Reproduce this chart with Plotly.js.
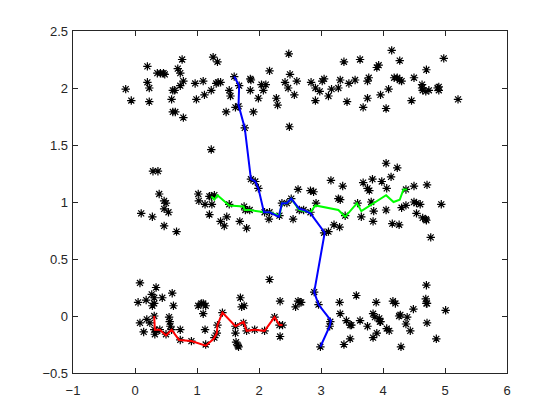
<!DOCTYPE html>
<html>
<head>
<meta charset="utf-8">
<script src="https://cdn.plot.ly/plotly-3.0.1.min.js"></script>
<style>
  body { margin: 0; background: #fff; }
  #myDiv { width: 560px; height: 420px; }
</style>
</head>
<body>
<div id="myDiv"></div>
<script>
// scattered samples, three bands
var ptsX = [
  -0.15, -0.06, 0.2, 0.2, 0.23, 0.23, 0.36, 0.41, 0.46, 0.48, 0.59, 0.61, 0.64, 0.61, 0.65,
  0.69, 0.73, 0.76, 0.78, 0.73, 0.78, 0.97, 0.99, 1.10, 1.12, 1.23, 1.26, 1.33, 1.31, 1.34,
  1.38, 1.47, 1.52, 1.54, 1.60, 1.62, 1.67, 1.68, 1.86, 1.87, 1.86, 1.91, 1.99, 2.04, 2.07,
  2.11, 2.17, 2.28, 2.30, 2.42, 2.47, 2.48, 2.50, 2.57, 2.49, 2.61, 2.84, 2.91, 2.98, 2.91,
  3.02, 3.05, 3.12, 3.17, 3.28, 3.31, 3.37, 3.42, 3.45, 3.55, 3.63, 3.68, 3.75, 3.75, 3.77,
  3.90, 3.93, 3.96, 4.05, 4.09, 4.14, 4.18, 4.23, 4.27, 4.30, 4.27, 4.46, 4.50, 4.63, 4.63,
  4.64, 4.69, 4.74, 4.70, 4.88, 4.90, 4.90, 4.98, 5.21, 1.23, 1.77,
  0.29, 0.37, 0.39, 0.47, 0.50, 0.47, 0.54, 0.47, 0.10, 0.28, 0.67, 1.02, 1.03, 1.13, 1.20,
  1.23, 1.28, 1.24, 1.20, 1.38, 1.44, 1.48, 1.52, 1.69, 1.80, 1.76, 1.78, 1.85, 1.87, 1.94,
  1.99, 2.09, 2.17, 2.16, 2.33, 2.37, 2.45, 2.52, 2.55, 2.63, 2.65, 2.72, 2.83, 2.88, 2.92,
  2.83, 3.05, 3.12, 3.16, 3.21, 3.30, 3.28, 3.31, 3.35, 3.39, 3.59, 3.65, 3.68, 3.75, 3.78,
  3.83, 3.81, 3.85, 3.84, 3.98, 4.05, 4.06, 4.05, 4.13, 4.15, 4.26, 4.23, 4.30, 4.37, 4.37,
  4.50, 4.50, 4.54, 4.60, 4.54, 4.64, 4.69, 4.70, 4.71, 4.77, 4.94,
  0.08, 0.05, 0.08, 0.14, 0.18, 0.19, 0.24, 0.27, 0.31, 0.28, 0.31, 0.34, 0.31, 0.31, 0.32,
  0.35, 0.40, 0.44, 0.50, 0.55, 0.56, 0.57, 0.60, 0.62, 0.59, 0.73, 0.73, 0.91, 1.02, 1.07,
  1.10, 1.14, 1.10, 1.13, 1.14, 1.28, 1.32, 1.33, 1.41, 1.62, 1.62, 1.63, 1.66, 1.67, 1.70,
  1.72, 1.76, 1.75, 1.80, 1.93, 2.09, 2.17, 2.25, 2.34, 2.34, 2.33, 2.38, 2.59, 2.63, 2.66,
  2.68, 2.89, 2.96, 3.15, 3.14, 2.99, 3.30, 3.31, 3.37, 3.41, 3.47, 3.49, 3.47, 3.57, 3.63,
  3.75, 3.84, 3.87, 3.84, 3.90, 3.89, 3.94, 3.95, 3.96, 4.06, 4.10, 4.16, 4.20, 4.26, 4.28,
  4.29, 4.39, 4.37, 4.44, 4.49, 4.70, 4.71, 4.69, 4.70, 4.71, 4.86, 5.01
];
var ptsY = [
  1.99, 1.89, 2.19, 2.05, 2.00, 1.88, 2.13, 2.13, 2.13, 2.12, 1.90, 1.98, 1.98, 1.79, 1.79,
  2.17, 2.13, 2.25, 2.06, 2.02, 1.74, 2.04, 1.90, 2.06, 1.94, 1.98, 2.27, 2.23, 2.04, 2.05,
  2.05, 1.79, 1.98, 1.93, 2.10, 1.83, 1.84, 2.02, 2.08, 2.07, 1.98, 1.79, 1.91, 2.03, 1.98,
  2.03, 2.15, 1.91, 1.85, 2.05, 2.00, 2.30, 2.12, 1.94, 1.66, 2.06, 2.05, 2.00, 1.97, 1.89,
  2.06, 2.08, 1.93, 1.99, 2.00, 2.07, 2.23, 1.88, 2.04, 2.07, 2.25, 1.83, 1.91, 2.06, 2.09,
  2.18, 2.20, 1.94, 1.82, 1.99, 2.33, 2.09, 2.09, 2.07, 2.06, 2.24, 1.89, 2.09, 2.03, 2.00,
  1.98, 1.97, 1.98, 2.16, 2.00, 2.01, 1.98, 2.26, 1.90, 1.46, 1.65,
  1.27, 1.27, 1.07, 1.01, 0.99, 0.94, 0.91, 0.79, 0.90, 0.87, 0.74, 1.07, 1.01, 0.98, 1.05,
  1.05, 1.06, 0.98, 0.89, 0.83, 0.79, 0.87, 0.98, 0.83, 0.77, 0.96, 0.93, 0.93, 1.20, 1.18,
  1.12, 0.91, 0.91, 0.85, 0.88, 0.99, 0.99, 1.03, 0.85, 1.11, 0.93, 0.93, 1.10, 1.09, 0.99,
  0.91, 0.73, 0.74, 1.19, 0.80, 0.78, 1.03, 1.02, 1.14, 0.88, 0.99, 0.87, 1.17, 1.12, 1.10,
  1.20, 1.00, 0.92, 0.83, 1.18, 1.34, 1.12, 0.93, 1.22, 0.81, 0.80, 1.30, 0.95, 0.97, 1.11,
  1.14, 1.00, 0.99, 0.98, 0.90, 0.86, 0.85, 0.84, 1.15, 0.69, 0.98,
  0.29, 0.12, -0.06, -0.14, 0.14, -0.03, -0.06, 0.19, 0.11, 0.09, 0.16, 0.25, 0.00, -0.12, -0.16,
  -0.13, -0.12, 0.16, -0.16, -0.01, -0.05, -0.09, 0.20, 0.09, -0.12, -0.12, -0.21, -0.22, 0.09, 0.11,
  0.11, 0.09, 0.02, -0.12, -0.25, -0.19, -0.15, -0.08, 0.03, -0.09, -0.15, -0.23, -0.26, -0.27, 0.16,
  0.08, 0.09, -0.06, -0.13, -0.12, -0.13, 0.32, -0.01, 0.13, -0.18, -0.08, -0.08, 0.08, 0.13, 0.12,
  0.12, 0.21, 0.10, -0.05, -0.09, -0.27, 0.12, 0.02, -0.25, -0.04, -0.08, -0.08, -0.20, 0.18, -0.04,
  -0.09, 0.02, -0.01, -0.19, -0.15, 0.12, -0.02, -0.05, -0.05, -0.11, -0.13, 0.13, 0.11, 0.00, 0.01,
  -0.27, -0.01, -0.07, -0.13, 0.06, 0.27, -0.06, 0.15, 0.11, 0.11, -0.20, 0.05
];

// paths
var redX = [0.31, 0.32, 0.40, 0.50, 0.59, 0.71, 0.91, 1.14, 1.27, 1.32, 1.33, 1.41, 1.62, 1.75, 1.80, 1.93, 2.09, 2.25, 2.33, 2.38];
var redY = [0.00, -0.12, -0.12, -0.17, -0.12, -0.21, -0.22, -0.26, -0.20, -0.15, -0.08, 0.03, -0.09, -0.05, -0.13, -0.12, -0.13, -0.01, -0.08, -0.08];

var greenX = [1.23, 1.28, 1.33, 1.52, 1.75, 1.77, 1.85, 2.09, 2.17, 2.33, 2.37, 2.45, 2.52, 2.65, 2.83, 2.91, 3.28, 3.39, 3.58, 3.65, 4.05, 4.17, 4.27, 4.33, 4.39];
var greenY = [1.05, 1.02, 1.06, 0.97, 0.96, 0.93, 0.93, 0.91, 0.91, 0.88, 0.99, 0.99, 1.03, 0.93, 0.91, 0.97, 0.93, 0.87, 0.99, 0.92, 1.06, 1.00, 1.02, 1.11, 1.11];

var blueX = [1.60, 1.68, 1.67, 1.77, 1.87, 1.94, 1.99, 2.08, 2.17, 2.32, 2.37, 2.45, 2.52, 2.65, 2.72, 2.83, 3.06, 2.89, 2.96, 3.16, 3.14, 2.99];
var blueY = [2.10, 2.02, 1.85, 1.65, 1.20, 1.18, 1.12, 0.91, 0.91, 0.87, 0.99, 0.99, 1.03, 0.94, 0.93, 0.90, 0.73, 0.21, 0.10, -0.04, -0.09, -0.27];

var stars = {
  x: ptsX, y: ptsY,
  mode: "markers", type: "scatter",
  marker: {symbol: "asterisk-open", size: 7, color: "#000", line: {color: "#000", width: 1.2}},
  hoverinfo: "none"
};

function path(xs, ys, col) {
  return {x: xs, y: ys, mode: "lines", type: "scatter", line: {color: col, width: 2}};
}

var data = [stars, path(redX, redY, "rgb(255,0,0)"), path(greenX, greenY, "rgb(0,255,0)"), path(blueX, blueY, "rgb(0,0,255)")];

var axisStyle = {
  showgrid: false, zeroline: false,
  showline: true, linecolor: "#262626", linewidth: 1.3, mirror: "allticks",
  ticks: "inside", ticklen: 5, tickcolor: "#262626",
  tickfont: {family: "Liberation Sans, Arial, sans-serif", size: 13, color: "#262626"}
};

var layout = {
  width: 560, height: 420,
  margin: {l: 73, r: 53, t: 31, b: 47},
  paper_bgcolor: "#fff", plot_bgcolor: "#fff",
  showlegend: false,
  xaxis: Object.assign({range: [-1, 6], dtick: 1, tick0: 0, ticklabelstandoff: 5}, axisStyle),
  yaxis: Object.assign({range: [-0.5, 2.5], dtick: 0.5, tick0: 0, ticklabelstandoff: 1}, axisStyle)
};

Plotly.newPlot("myDiv", data, layout, {displayModeBar: false, staticPlot: true});
</script>
</body>
</html>
